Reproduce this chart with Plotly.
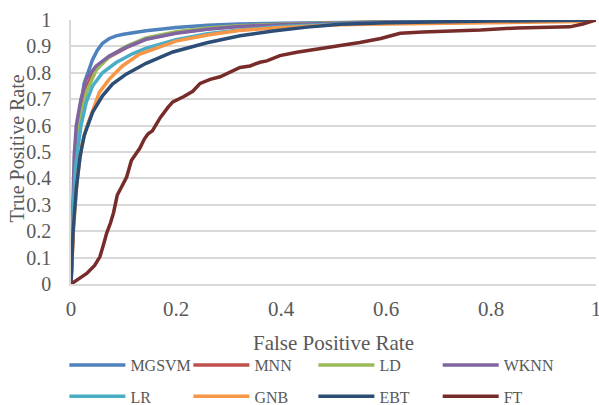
import plotly.graph_objects as go

# ---- data ----
names = ["MGSVM", "MNN", "LD", "WKNN", "LR", "GNB", "EBT", "FT"]
colors = ["#4F81BD", "#C0504D", "#9BBB59", "#8064A2", "#4BACC6", "#F79646", "#2C4D75", "#772C2A"]

mgsvm_x = [0, 0.003, 0.008, 0.013, 0.02, 0.025, 0.033, 0.041, 0.05, 0.06, 0.073, 0.086, 0.1, 0.117, 0.143, 0.17, 0.2, 0.26, 0.32, 0.4, 0.5, 0.6, 0.8, 1]
mgsvm_y = [0, 0.25, 0.45, 0.56, 0.69, 0.76, 0.81, 0.85, 0.885, 0.912, 0.93, 0.94, 0.946, 0.952, 0.959, 0.965, 0.972, 0.98, 0.985, 0.988, 0.991, 0.994, 0.997, 1]

mnn_x = [0, 0.004, 0.008, 0.013, 0.02, 0.03, 0.048, 0.073, 0.105, 0.143, 0.2, 0.26, 0.32, 0.4, 0.5, 0.6, 0.8, 1]
mnn_y = [0, 0.25, 0.42, 0.55, 0.66, 0.75, 0.82, 0.86, 0.895, 0.928, 0.952, 0.967, 0.976, 0.983, 0.988, 0.992, 0.997, 1]

ld_x = [0, 0.004, 0.008, 0.013, 0.02, 0.03, 0.048, 0.073, 0.105, 0.143, 0.2, 0.26, 0.32, 0.4, 0.5, 0.6, 0.8, 1]
ld_y = [0, 0.28, 0.45, 0.56, 0.65, 0.73, 0.81, 0.862, 0.9, 0.932, 0.956, 0.97, 0.978, 0.984, 0.989, 0.993, 0.997, 1]

wknn_x = [0, 0.003, 0.006, 0.01, 0.019, 0.029, 0.048, 0.073, 0.105, 0.143, 0.2, 0.26, 0.32, 0.4, 0.5, 0.6, 0.8, 1]
wknn_y = [0, 0.3, 0.48, 0.6, 0.70, 0.777, 0.826, 0.864, 0.896, 0.927, 0.95, 0.965, 0.975, 0.982, 0.988, 0.992, 0.997, 1]

lr_x = [0, 0.004, 0.009, 0.014, 0.019, 0.029, 0.041, 0.06, 0.086, 0.117, 0.143, 0.2, 0.26, 0.32, 0.4, 0.5, 0.6, 0.8, 1]
lr_y = [0, 0.28, 0.45, 0.54, 0.6, 0.688, 0.75, 0.80, 0.839, 0.872, 0.893, 0.925, 0.948, 0.962, 0.975, 0.984, 0.99, 0.996, 1]

gnb_x = [0, 0.005, 0.012, 0.02, 0.029, 0.035, 0.041, 0.054, 0.073, 0.098, 0.13, 0.17, 0.2, 0.26, 0.32, 0.385, 0.45, 0.51, 0.6, 0.7, 0.8, 0.9, 0.97, 1]
gnb_y = [0, 0.22, 0.4, 0.52, 0.59, 0.625, 0.66, 0.726, 0.776, 0.826, 0.87, 0.9, 0.92, 0.943, 0.96, 0.97, 0.977, 0.982, 0.985, 0.988, 0.99, 0.992, 0.994, 1]

ebt_x = [0, 0.004, 0.01, 0.017, 0.025, 0.033, 0.041, 0.06, 0.079, 0.105, 0.131, 0.143, 0.194, 0.259, 0.322, 0.385, 0.45, 0.512, 0.6, 0.7, 0.8, 1]
ebt_y = [0, 0.2, 0.36, 0.48, 0.562, 0.61, 0.65, 0.713, 0.757, 0.795, 0.825, 0.836, 0.879, 0.914, 0.94, 0.958, 0.973, 0.984, 0.99, 0.994, 0.996, 1]

ft_x = [0, 0.03, 0.045, 0.055, 0.062, 0.068, 0.075, 0.081, 0.088, 0.1, 0.106, 0.115, 0.125, 0.131, 0.14, 0.147, 0.155, 0.17, 0.185, 0.194, 0.215, 0.232, 0.246, 0.265, 0.284, 0.3, 0.322, 0.341, 0.36, 0.373, 0.398, 0.43, 0.468, 0.51, 0.55, 0.59, 0.627, 0.67, 0.72, 0.78, 0.85, 0.9, 0.95, 0.975, 1]
ft_y = [0, 0.04, 0.07, 0.103, 0.15, 0.193, 0.23, 0.27, 0.336, 0.38, 0.405, 0.468, 0.5, 0.514, 0.55, 0.569, 0.58, 0.63, 0.67, 0.69, 0.71, 0.73, 0.76, 0.775, 0.785, 0.8, 0.82, 0.826, 0.84, 0.845, 0.865, 0.878, 0.89, 0.9, 0.915, 0.93, 0.95, 0.955, 0.958, 0.962, 0.97, 0.972, 0.974, 0.985, 1]

xs = [mgsvm_x, mnn_x, ld_x, wknn_x, lr_x, gnb_x, ebt_x, ft_x]
ys = [mgsvm_y, mnn_y, ld_y, wknn_y, lr_y, gnb_y, ebt_y, ft_y]

x_ticks = [0, 0.2, 0.4, 0.6, 0.8, 1]
x_tick_labels = ["0", "0.2", "0.4", "0.6", "0.8", "1"]
y_ticks = [0, 0.1, 0.2, 0.3, 0.4, 0.5, 0.6, 0.7, 0.8, 0.9, 1]
y_tick_labels = ["0", "0.1", "0.2", "0.3", "0.4", "0.5", "0.6", "0.7", "0.8", "0.9", "1"]

FONT = "Liberation Serif"
GREY = "#595959"

# legend grid: 4 columns x 2 rows, one legend box per entry
legend_cols_x = [-0.0126, 0.2236, 0.4617, 0.6985]
legend_rows_y = [-0.307, -0.426]

fig = go.Figure()
layout_legends = {}
for i, (n, c, x, y) in enumerate(zip(names, colors, xs, ys)):
    key = "legend" if i == 0 else f"legend{i + 1}"
    fig.add_trace(go.Scatter(
        x=x, y=y, mode="lines", name=n,
        line=dict(color=c, width=3.5),
        legend=key,
    ))
    layout_legends[key] = dict(
        x=legend_cols_x[i % 4], y=legend_rows_y[i // 4],
        orientation="h", xanchor="left", yanchor="middle",
        font=dict(family=FONT, size=16, color=GREY),
        itemwidth=56, bgcolor="rgba(0,0,0,0)", borderwidth=0,
    )

fig.update_layout(
    width=599, height=405,
    margin=dict(l=71, r=3, t=20, b=121, autoexpand=False),
    paper_bgcolor="white", plot_bgcolor="white",
    font=dict(family=FONT, color=GREY),
    showlegend=True,
    xaxis=dict(
        range=[0, 1], tickvals=x_ticks, ticktext=x_tick_labels,
        showgrid=False, zeroline=False, automargin=False,
        showline=True, linecolor="#D9D9D9", linewidth=1.5,
        ticks="outside", ticklen=5, tickcolor="rgba(0,0,0,0)",
        ticklabeloverflow="allow",
        tickfont=dict(family=FONT, size=21, color=GREY),
        title=dict(text="False Positive Rate", font=dict(family=FONT, size=21, color=GREY), standoff=15),
    ),
    yaxis=dict(
        range=[0, 1], tickvals=y_ticks, ticktext=y_tick_labels,
        showgrid=True, gridcolor="#D9D9D9", gridwidth=1.5,
        zeroline=False, automargin=False,
        showline=True, linecolor="#D9D9D9", linewidth=1.5,
        ticks="outside", ticklen=14, tickcolor="rgba(0,0,0,0)",
        ticklabeloverflow="allow",
        tickfont=dict(family=FONT, size=20, color=GREY),
    ),
    annotations=[dict(
        text="True Positive Rate", xref="paper", yref="paper",
        x=-0.102, y=0.515, xanchor="center", yanchor="middle",
        textangle=-90, showarrow=False,
        font=dict(family=FONT, size=20, color=GREY),
    )],
    **layout_legends,
)

fig.write_html(
    "out.html",
    config={"displayModeBar": False},
    post_script="document.body.style.margin='0';document.body.style.overflow='hidden';",
)
